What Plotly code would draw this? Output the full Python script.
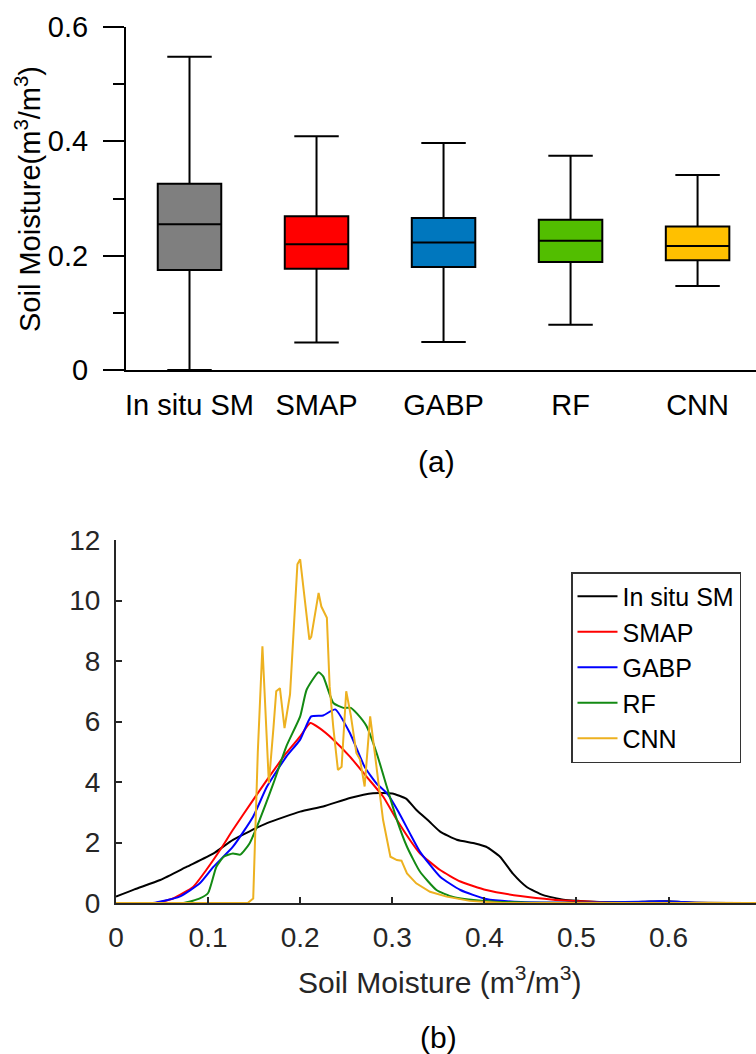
import plotly.graph_objects as go

# ---------------- Panel (a): box plot data ----------------
categories = ["In situ SM", "SMAP", "GABP", "RF", "CNN"]
box_lower = [0.000, 0.048, 0.049, 0.079, 0.147]
box_q1 = [0.175, 0.177, 0.180, 0.189, 0.192]
box_median = [0.255, 0.220, 0.223, 0.226, 0.217]
box_q3 = [0.326, 0.269, 0.266, 0.263, 0.251]
box_upper = [0.548, 0.409, 0.397, 0.375, 0.341]
box_colors = ["#7F7F7F", "#FF0000", "#0077BE", "#52BE00", "#FFC000"]

# ---------------- Panel (b): density curves ----------------
insitu_x = [0, 0.02, 0.048, 0.077, 0.106, 0.127, 0.164, 0.2, 0.225, 0.254, 0.279, 0.30,
            0.315, 0.326, 0.34, 0.352, 0.37, 0.39, 0.402, 0.417, 0.431, 0.446, 0.464,
            0.486, 0.504, 0.53, 0.56, 0.58, 0.6, 0.62, 0.7]
insitu_y = [0.21, 0.45, 0.76, 1.2, 1.64, 2.09, 2.64, 3.02, 3.19, 3.47, 3.63, 3.62,
            3.45, 3.08, 2.7, 2.36, 2.09, 1.97, 1.86, 1.53, 0.97, 0.53, 0.26,
            0.11, 0.07, 0.03, 0.02, 0.05, 0.06, 0.02, 0.0]

smap_x = [0, 0.043, 0.062, 0.084, 0.098, 0.113, 0.127, 0.149, 0.164, 0.185, 0.2, 0.211,
          0.221, 0.236, 0.254, 0.272, 0.29, 0.305, 0.319, 0.33, 0.352, 0.374, 0.402,
          0.439, 0.475, 0.511, 0.54, 0.7]
smap_y = [0, 0, 0.15, 0.54, 1.09, 1.75, 2.42, 3.41, 4.07, 4.96, 5.51, 5.95,
          5.78, 5.4, 4.84, 4.18, 3.52, 2.75, 2.09, 1.64, 1.09, 0.71, 0.43,
          0.23, 0.11, 0.05, 0.01, 0]

gabp_x = [0, 0.04, 0.069, 0.091, 0.106, 0.127, 0.149, 0.164, 0.185, 0.2, 0.212, 0.225,
          0.238, 0.254, 0.27, 0.283, 0.295, 0.307, 0.319, 0.33, 0.352, 0.374, 0.402,
          0.44, 0.5, 0.57, 0.59, 0.61, 0.63, 0.7]
gabp_y = [0, 0, 0.21, 0.65, 1.2, 1.86, 2.86, 3.85, 4.84, 5.4, 6.17, 6.2,
          6.4, 5.62, 4.5, 3.95, 3.6, 3.0, 2.31, 1.7, 0.87, 0.43, 0.13,
          0.03, 0.01, 0.04, 0.06, 0.04, 0.01, 0]

rf_x = [0, 0.073, 0.091, 0.1, 0.109, 0.117, 0.127, 0.135, 0.145, 0.156, 0.171, 0.185,
        0.2, 0.207, 0.22, 0.225, 0.236, 0.247, 0.255, 0.262, 0.272, 0.283, 0.294,
        0.305, 0.316, 0.33, 0.348, 0.366, 0.40, 0.45, 0.7]
rf_y = [0, 0, 0.15, 0.33, 1.2, 1.53, 1.64, 1.6, 1.97, 2.75, 3.96, 5.18,
        6.17, 7.05, 7.63, 7.49, 6.61, 6.45, 6.45, 6.25, 5.85, 4.96, 3.85,
        2.75, 1.86, 1.04, 0.43, 0.2, 0.07, 0.01, 0]

cnn_x = [0, 0.143, 0.149, 0.154, 0.159, 0.164, 0.166, 0.171, 0.174, 0.178, 0.183, 0.189,
         0.193, 0.197, 0.2, 0.205, 0.21, 0.212, 0.216, 0.22, 0.223, 0.229, 0.232, 0.236,
         0.241, 0.245, 0.25, 0.255, 0.261, 0.265, 0.27, 0.276, 0.281, 0.287, 0.29, 0.298,
         0.305, 0.31, 0.316, 0.326, 0.341, 0.359, 0.384, 0.42, 0.7]
cnn_y = [0, 0, 0.15, 5.0, 8.49, 5.5, 3.96, 5.8, 7.0, 7.1, 5.78, 6.9,
         9.0, 11.2, 11.36, 9.92, 8.71, 8.8, 9.6, 10.25, 9.8, 9.43, 7.16, 5.8,
         4.4, 4.5, 7.0, 6.2, 4.96, 4.74, 3.85, 6.17, 4.96, 3.41, 2.75, 1.53,
         1.42, 1.4, 0.98, 0.65, 0.37, 0.21, 0.07, 0, 0]

series_names = ["In situ SM", "SMAP", "GABP", "RF", "CNN"]
series_x = [insitu_x, smap_x, gabp_x, rf_x, cnn_x]
series_y = [insitu_y, smap_y, gabp_y, rf_y, cnn_y]
line_colors = ["#000000", "#FF0000", "#0000FF", "#138A13", "#EDB120"]
line_shapes = ["spline", "spline", "spline", "spline", "linear"]

FONT = "Liberation Sans, Arial, sans-serif"
W, H = 756, 1054

fig = go.Figure()

for i, cat in enumerate(categories):
    fig.add_trace(go.Box(
        x=[cat], q1=[box_q1[i]], median=[box_median[i]], q3=[box_q3[i]],
        lowerfence=[box_lower[i]], upperfence=[box_upper[i]],
        fillcolor=box_colors[i], line=dict(color="#000000", width=2),
        width=0.5, whiskerwidth=0.7, showlegend=False,
        xaxis="x", yaxis="y",
    ))

for name, xs, ys, c, sh in zip(series_names, series_x, series_y, line_colors, line_shapes):
    line = dict(color=c, width=2, shape=sh)
    if sh == "spline":
        line["smoothing"] = 0.5
    fig.add_trace(go.Scatter(
        x=xs, y=ys, mode="lines", name=name, line=line,
        xaxis="x2", yaxis="y2",
    ))

def px_x(p):
    return p / W

def px_y(p):
    return 1 - p / H

fig.update_layout(
    template="none",
    width=W, height=H,
    margin=dict(l=0, r=0, t=0, b=0, pad=0),
    paper_bgcolor="white", plot_bgcolor="white",
    font=dict(family=FONT, size=29, color="#000000"),
    xaxis=dict(
        domain=[px_x(126), 1.0], anchor="y", automargin=False,
        type="category", categoryorder="array", categoryarray=categories,
        range=[-0.5, 4.46], showline=True, linecolor="#000000", linewidth=2,
        ticks="", showgrid=False, zeroline=False,
        tickfont=dict(size=29), ticklabelstandoff=8,
    ),
    yaxis=dict(
        domain=[px_y(370), px_y(27)], anchor="x", automargin=False,
        range=[0, 0.6], dtick=0.2, tick0=0,
        showline=True, linecolor="#000000", linewidth=2,
        ticks="outside", ticklen=21, tickwidth=2, tickcolor="#000000",
        minor=dict(dtick=0.1, ticklen=11, tickwidth=2, tickcolor="#000000",
                   ticks="outside", showgrid=False),
        showgrid=False, zeroline=False, tickfont=dict(size=29),
        ticklabelstandoff=9,
    ),
    xaxis2=dict(
        domain=[px_x(116), 1.0], anchor="y2", automargin=False,
        range=[0, 0.695], dtick=0.1, tick0=0,
        showline=True, linecolor="#262626", linewidth=2,
        ticks="inside", ticklen=6, tickwidth=1.5, tickcolor="#262626",
        showgrid=False, zeroline=False,
        tickfont=dict(size=28, color="#262626"), ticklabelstandoff=8,
    ),
    yaxis2=dict(
        domain=[px_y(903), px_y(540)], anchor="x2", automargin=False,
        range=[0, 12], dtick=2, tick0=0,
        showline=True, linecolor="#262626", linewidth=2,
        ticks="inside", ticklen=6, tickwidth=1.5, tickcolor="#262626",
        showgrid=False, zeroline=False,
        tickfont=dict(size=28, color="#262626"), ticklabelstandoff=8,
    ),
    legend=dict(
        x=px_x(571), y=px_y(572), xanchor="left", yanchor="top",
        bgcolor="white", bordercolor="#333333", borderwidth=1.5,
        font=dict(size=25, color="#000000"), tracegroupgap=0,
        itemwidth=40,
    ),
    annotations=[
        dict(text="Soil Moisture(m<sup>3</sup>/m<sup>3</sup>)", textangle=-90,
             x=px_x(28), y=px_y(199), xref="paper", yref="paper",
             xanchor="center", yanchor="middle", showarrow=False,
             font=dict(size=29, color="#000000")),
        dict(text="(a)", x=px_x(436), y=px_y(461), xref="paper", yref="paper",
             xanchor="center", yanchor="middle", showarrow=False,
             font=dict(size=30, color="#000000")),
        dict(text="Soil Moisture (m<sup>3</sup>/m<sup>3</sup>)",
             x=px_x(439), y=px_y(980), xref="paper", yref="paper",
             xanchor="center", yanchor="middle", showarrow=False,
             font=dict(size=30, color="#262626")),
        dict(text="(b)", x=px_x(438), y=px_y(1037), xref="paper", yref="paper",
             xanchor="center", yanchor="middle", showarrow=False,
             font=dict(size=30, color="#000000")),
    ],
)

fig.write_html("out.html")
